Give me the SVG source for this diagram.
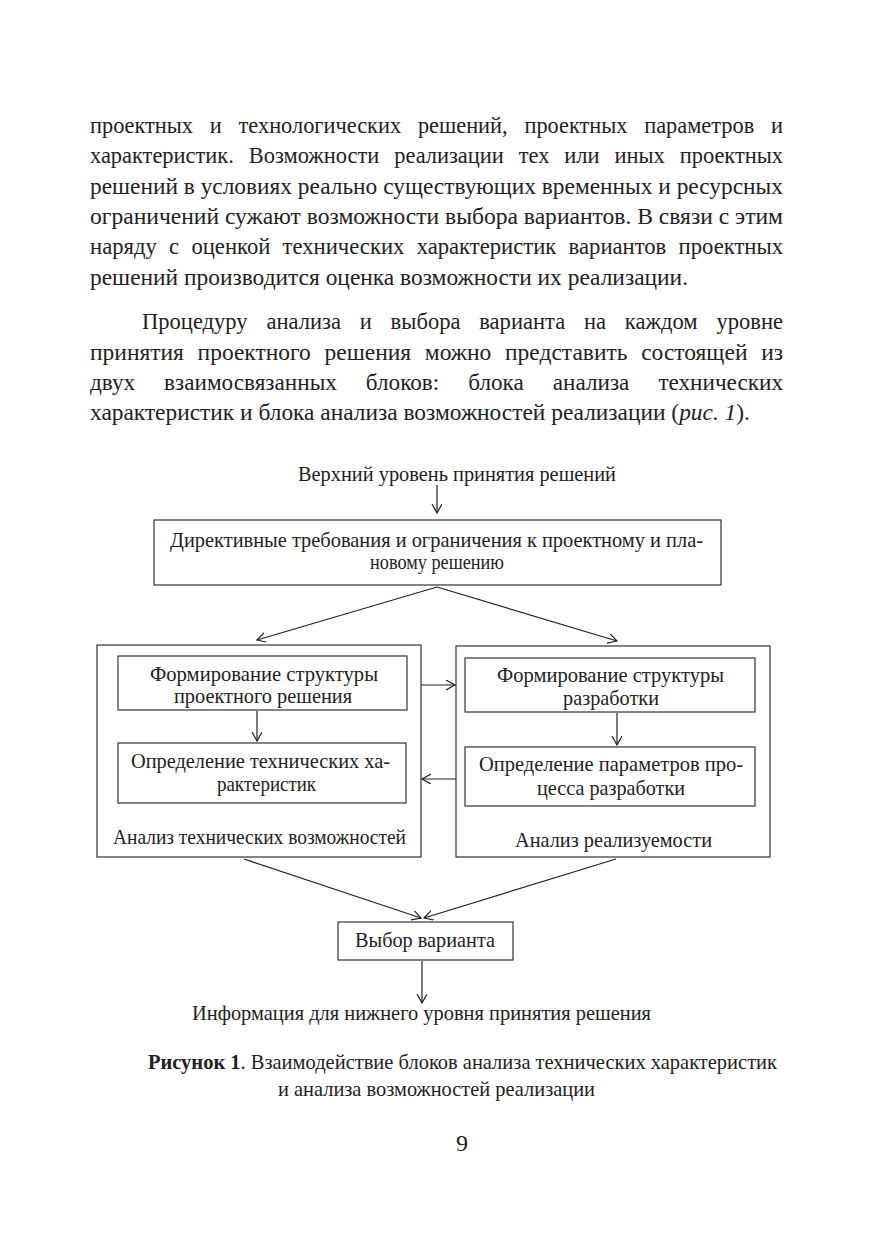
<svg xmlns="http://www.w3.org/2000/svg" width="876" height="1240" viewBox="0 0 876 1240">
<style>
.body{font-family:"Liberation Serif","Times New Roman",serif;font-size:24px;fill:#222}
.d{font-family:"Liberation Serif","Times New Roman",serif;font-size:21px;fill:#222}
.box{fill:#fff;stroke:#333;stroke-width:1.2}
.con{fill:none;stroke:#222;stroke-width:1.2}
</style>
<defs>
<marker id="ah" markerUnits="userSpaceOnUse" markerWidth="12" markerHeight="12" refX="9" refY="5" orient="auto">
<path d="M0,0 L9,5 L0,10" fill="none" stroke="#222" stroke-width="1.2"/>
</marker>
</defs>
<rect width="876" height="1240" fill="#fff"/>
<g id="paragraph1" class="body">
<text x="90" y="133" textLength="693" lengthAdjust="spacingAndGlyphs" word-spacing="12">проектных и технологических решений, проектных параметров и</text>
<text x="90" y="163" textLength="693" lengthAdjust="spacingAndGlyphs" word-spacing="10">характеристик. Возможности реализации тех или иных проектных</text>
<text x="90" y="194" textLength="693" lengthAdjust="spacingAndGlyphs">решений в условиях реально существующих временных и ресурсных</text>
<text x="90" y="224" textLength="693" lengthAdjust="spacingAndGlyphs">ограничений сужают возможности выбора вариантов. В связи с этим</text>
<text x="90" y="254" textLength="693" lengthAdjust="spacingAndGlyphs" word-spacing="7">наряду с оценкой технических характеристик вариантов проектных</text>
<text x="90" y="285" textLength="598" lengthAdjust="spacingAndGlyphs">решений производится оценка возможности их реализации.</text>
</g>
<g id="paragraph2" class="body">
<text x="142" y="329" textLength="641" lengthAdjust="spacingAndGlyphs" word-spacing="14">Процедуру анализа и выбора варианта на каждом уровне</text>
<text x="90" y="360" textLength="693" lengthAdjust="spacingAndGlyphs" word-spacing="8">принятия проектного решения можно представить состоящей из</text>
<text x="90" y="390" textLength="693" lengthAdjust="spacingAndGlyphs" word-spacing="24">двух взаимосвязанных блоков: блока анализа технических</text>
<text x="90" y="420" font-size="23.4">характеристик и блока анализа возможностей реализации (<tspan font-style="italic">рис. 1</tspan>).</text>
</g>
<g id="top-label"><text class="d" x="298" y="481" textLength="318" lengthAdjust="spacingAndGlyphs">Верхний уровень принятия решений</text></g>
<g id="directives">
<rect class="box" x="154" y="520" width="567" height="65"/>
<text class="d" x="170" y="547" textLength="533" lengthAdjust="spacingAndGlyphs">Директивные требования и ограничения к проектному и пла-</text>
<text class="d" x="370" y="569" textLength="134" lengthAdjust="spacingAndGlyphs">новому решению</text>
</g>
<g id="tech-analysis">
<rect class="box" x="97" y="645" width="324" height="212"/>
<text class="d" x="113" y="844" textLength="293" lengthAdjust="spacingAndGlyphs">Анализ технических возможностей</text>
</g>
<g id="form-structure-project">
<rect class="box" x="118" y="656" width="289" height="54"/>
<text class="d" x="150" y="681" textLength="228" lengthAdjust="spacingAndGlyphs">Формирование структуры</text>
<text class="d" x="174" y="703" textLength="178" lengthAdjust="spacingAndGlyphs">проектного решения</text>
</g>
<g id="tech-characteristics">
<rect class="box" x="118" y="743" width="288" height="60"/>
<text class="d" x="131" y="768" textLength="259" lengthAdjust="spacingAndGlyphs">Определение технических ха-</text>
<text class="d" x="217" y="791" textLength="99" lengthAdjust="spacingAndGlyphs">рактеристик</text>
</g>
<g id="feasibility">
<rect class="box" x="456" y="646" width="314" height="211"/>
<text class="d" x="515" y="847" textLength="197" lengthAdjust="spacingAndGlyphs">Анализ реализуемости</text>
</g>
<g id="form-structure-dev">
<rect class="box" x="465" y="658" width="290" height="54"/>
<text class="d" x="497" y="682" textLength="227" lengthAdjust="spacingAndGlyphs">Формирование структуры</text>
<text class="d" x="563" y="705" textLength="96" lengthAdjust="spacingAndGlyphs">разработки</text>
</g>
<g id="process-params">
<rect class="box" x="465" y="747" width="290" height="59"/>
<text class="d" x="479" y="771" textLength="264" lengthAdjust="spacingAndGlyphs">Определение параметров про-</text>
<text class="d" x="537" y="795" textLength="148" lengthAdjust="spacingAndGlyphs">цесса разработки</text>
</g>
<g id="choice">
<rect class="box" x="338" y="922" width="175" height="38"/>
<text class="d" x="355" y="947" textLength="140" lengthAdjust="spacingAndGlyphs">Выбор варианта</text>
</g>
<g id="bottom-label"><text class="d" x="192" y="1020" textLength="459" lengthAdjust="spacingAndGlyphs">Информация для нижнего уровня принятия решения</text></g>
<g id="connectors" class="con">
<line x1="437" y1="485" x2="437" y2="513" marker-end="url(#ah)"/>
<line x1="437" y1="587" x2="257" y2="640" marker-end="url(#ah)"/>
<line x1="437" y1="587" x2="617" y2="641" marker-end="url(#ah)"/>
<line x1="257" y1="711" x2="257" y2="741" marker-end="url(#ah)"/>
<line x1="617" y1="713" x2="617" y2="745" marker-end="url(#ah)"/>
<line x1="421" y1="685" x2="455" y2="685" marker-end="url(#ah)"/>
<line x1="456" y1="779" x2="422" y2="779" marker-end="url(#ah)"/>
<line x1="244" y1="859" x2="421" y2="918" marker-end="url(#ah)"/>
<line x1="616" y1="859" x2="424" y2="918" marker-end="url(#ah)"/>
<line x1="422" y1="961" x2="422" y2="1003" marker-end="url(#ah)"/>
</g>
<g id="caption" class="d">
<text x="148" y="1069" textLength="629" lengthAdjust="spacingAndGlyphs"><tspan font-weight="bold">Рисунок 1</tspan>. Взаимодействие блоков анализа технических характеристик</text>
<text x="278" y="1096" textLength="317" lengthAdjust="spacingAndGlyphs">и анализа возможностей реализации</text>
</g>
<g id="page-number"><text class="body" x="462" y="1151" text-anchor="middle" font-size="22">9</text></g>
</svg>
